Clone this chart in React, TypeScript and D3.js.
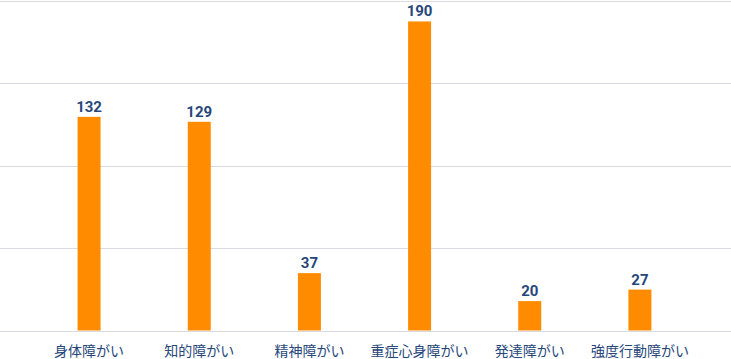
import React, { useEffect, useRef } from 'react';
import * as d3 from 'd3';

const categories = ['身体障がい', '知的障がい', '精神障がい', '重症心身障がい', '発達障がい', '強度行動障がい'];
const values = [132, 129, 37, 190, 20, 27];
const gridTicks = [0, 50, 100, 150, 200];

function App() {
  const ref = useRef(null);

  useEffect(() => {
    const width = 731;
    const height = 359;
    const root = d3.select(ref.current);
    root.selectAll('*').remove();

    const svg = root
      .append('svg')
      .attr('width', width)
      .attr('height', height)
      .style('position', 'absolute')
      .style('left', 0)
      .style('top', 0)
      .style('background', '#fff');

    const x = d3.scaleBand().domain(categories).range([34, 695]);
    // grid scale and bar scale (bars sit a touch lower than the grid in the original)
    const y = d3.scaleLinear().domain([0, 200]).range([330.5, 1]);
    const yBar = d3.scaleLinear().domain([0, 200]).range([334, 5]);
    const base = y(0);
    const barW = 23;

    svg
      .append('g')
      .selectAll('line')
      .data(gridTicks)
      .enter()
      .append('line')
      .attr('x1', 0)
      .attr('x2', width)
      .attr('y1', (d) => Math.round(y(d)) + 0.5)
      .attr('y2', (d) => Math.round(y(d)) + 0.5)
      .attr('stroke', '#dadae2')
      .attr('stroke-width', 1);

    const data = categories.map((c, i) => ({ c, v: values[i] }));

    svg
      .selectAll('rect.bar')
      .data(data)
      .enter()
      .append('rect')
      .attr('class', 'bar')
      .attr('x', (d) => x(d.c) + x.bandwidth() / 2 - barW / 2)
      .attr('y', (d) => yBar(d.v))
      .attr('width', barW)
      .attr('height', (d) => base - yBar(d.v))
      .attr('fill', '#ff8c00');

    svg
      .selectAll('text.value')
      .data(data)
      .enter()
      .append('text')
      .attr('class', 'value')
      .attr('x', (d) => x(d.c) + x.bandwidth() / 2)
      .attr('y', (d) => yBar(d.v) - 5)
      .attr('text-anchor', 'middle')
      .attr('font-family', 'Roboto, sans-serif')
      .attr('font-weight', 'bold')
      .attr('font-size', 15)
      .attr('fill', '#27477a')
      .text((d) => d.v);

    svg
      .selectAll('text.cat')
      .data(data)
      .enter()
      .append('text')
      .attr('class', 'cat')
      .attr('x', (d) => x(d.c) + x.bandwidth() / 2)
      .attr('y', 356)
      .attr('text-anchor', 'middle')
      .attr('font-family', '"Noto Sans CJK JP", sans-serif')
      .attr('font-size', 14)
      .attr('fill', '#27477a')
      .text((d) => d.c);
  }, []);

  return <div ref={ref} />;
}

export default App;
